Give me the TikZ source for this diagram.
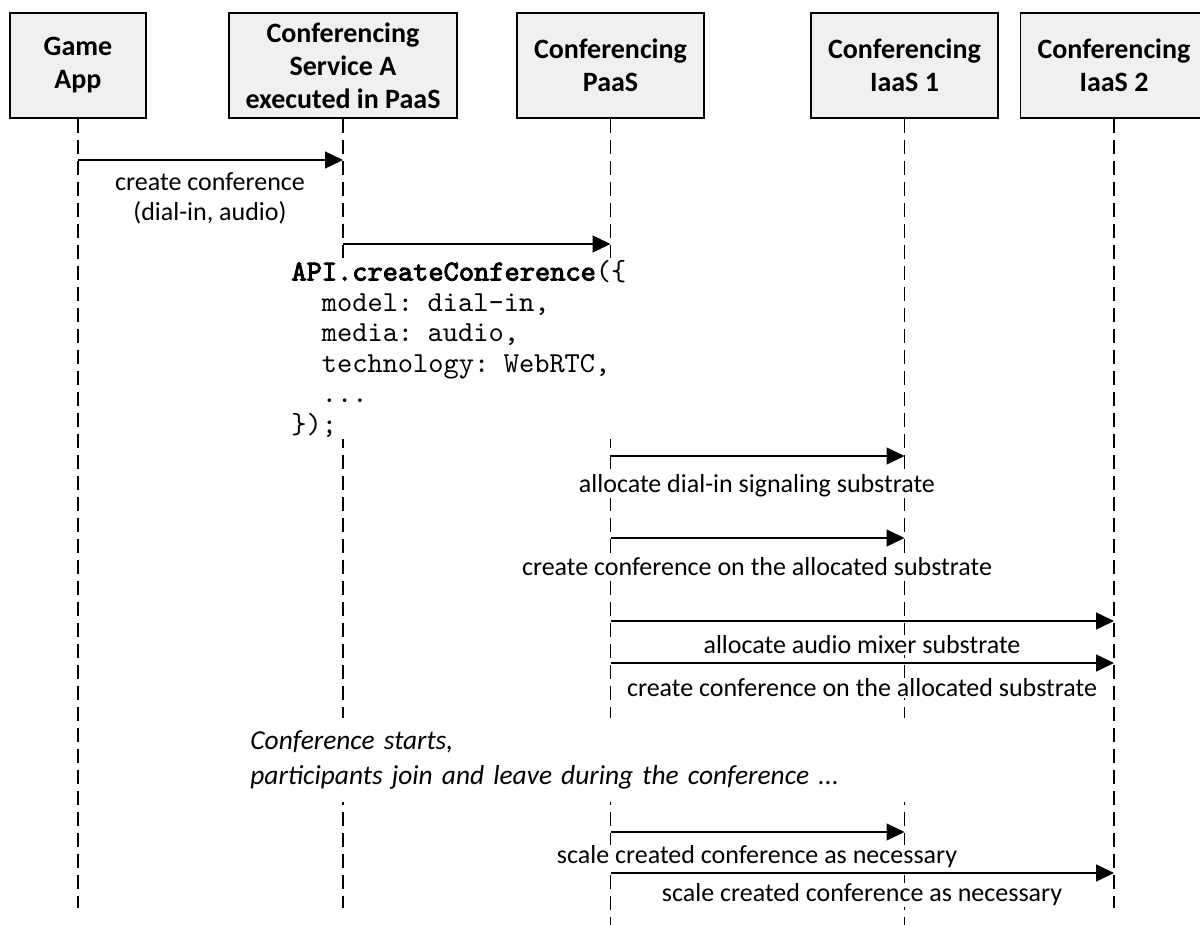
\documentclass[tikz,border=0pt]{standalone}
\usepackage{fontspec}
\setmainfont{Carlito}
\setmonofont{lmmono10-regular.otf}[BoldFont=lmmono10-regular.otf, BoldFeatures={FakeBold=3}]
\usetikzlibrary{arrows.meta}
\begin{document}
\begin{tikzpicture}[x=0.5pt,y=-0.5pt,
  actor/.style={draw=black, line width=0.7pt, fill=black!6, minimum height=52.5pt,
    inner sep=0pt, align=center, font=\fontsize{14}{16.5}\selectfont\bfseries},
  lifeline/.style={line width=0.6pt, dash pattern=on 7pt off 3.5pt},
  msg/.style={line width=0.7pt, -{Triangle[length=9pt,width=8.5pt]}},
  lbl/.style={fill=white, inner xsep=1pt, inner ysep=0.5pt, align=center,
    font=\fontsize{13}{15}\selectfont},
  codebox/.style={fill=white, inner xsep=1pt, inner ysep=1pt, align=left,
    text width=166pt, font=\fontsize{14.5}{15.25}\selectfont\ttfamily},
  notebox/.style={fill=white, inner xsep=1pt, inner ysep=0pt, align=left,
    text width=335pt, minimum height=42pt,
    font=\fontsize{13.7}{17.5}\selectfont\itshape},
]
\useasboundingbox (0,0) rectangle (1200,925);

% participants
\node[actor, minimum width=68pt]   (game) at (78,65.5)   {Game\\App};
\node[actor, minimum width=114pt]  (svc)  at (343,65.5)  {Conferencing\\Service A\\executed in PaaS};
\node[actor, minimum width=93.5pt] (paas) at (610.5,65.5) {Conferencing\\PaaS};
\node[actor, minimum width=93.5pt] (ias1) at (904.5,65.5) {Conferencing\\IaaS 1};
\node[actor, minimum width=93.5pt] (ias2) at (1114,65.5) {Conferencing\\IaaS 2};

% row heights of the messages and lifeline ends
\coordinate (m1) at (0,160);
\coordinate (m2) at (0,244);
\coordinate (m3) at (0,456);
\coordinate (m4) at (0,538);
\coordinate (m5) at (0,621);
\coordinate (m6) at (0,663);
\coordinate (m7) at (0,832);
\coordinate (m8) at (0,873);
\coordinate (endA) at (0,908);
\coordinate (endB) at (0,925);

% lifelines
\draw[lifeline] (game.south) -- (game |- endA);
\draw[lifeline] (svc.south)  -- (svc |- endA);
\draw[lifeline] (paas.south) -- (paas |- endB);
\draw[lifeline] (ias1.south) -- (ias1 |- endB);
\draw[lifeline] (ias2.south) -- (ias2 |- endA);

% message labels
\node[lbl] (t1) at (210,198) {create conference\\(dial-in, audio)};
\node[codebox, anchor=north west] (code) at (289,258)
  {\textbf{API.createConference}(\{\\
   \phantom{mm}model: dial-in,\\
   \phantom{mm}media: audio,\\
   \phantom{mm}technology: WebRTC,\\
   \phantom{mm}...\\
   \});};
\node[lbl] (t3) at (757,486) {allocate dial-in signaling substrate};
\node[lbl] (t4) at (757,567) {create conference on the allocated substrate};
\node[lbl] (t5) at (862,645) {allocate audio mixer substrate};
\node[lbl] (t6) at (862,688) {create conference on the allocated substrate};
\node[notebox, anchor=north west] (note) at (248,718)
  {Conference starts,\\participants join and leave during the conference ...};
\node[lbl] (t7) at (757,857) {scale created conference as necessary};
\node[lbl] (t8) at (862,895) {scale created conference as necessary};

% messages
\draw[msg] (game |- m1) -- (svc |- m1);
\draw[msg] (svc |- m2)  -- (paas |- m2);
\draw[msg] (paas |- m3) -- (ias1 |- m3);
\draw[msg] (paas |- m4) -- (ias1 |- m4);
\draw[msg] (paas |- m5) -- (ias2 |- m5);
\draw[msg] (paas |- m6) -- (ias2 |- m6);
\draw[msg] (paas |- m7) -- (ias1 |- m7);
\draw[msg] (paas |- m8) -- (ias2 |- m8);
\end{tikzpicture}
\end{document}
